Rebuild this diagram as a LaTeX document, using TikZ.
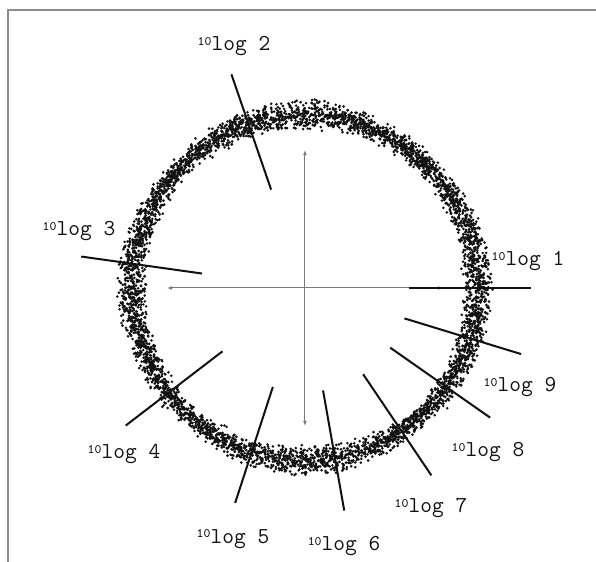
\documentclass[tikz,border=0pt]{standalone}
\usepackage{tikz}
\usetikzlibrary{arrows.meta}
\definecolor{ink}{HTML}{111111}
\definecolor{axisgray}{HTML}{7A7A7A}
\definecolor{framegray}{HTML}{8C8C8C}
\newcommand{\tenlog}[1]{\raisebox{0.55ex}{\fontsize{6.5}{7}\selectfont 10}log #1}
\tikzset{
  >={Latex[length=2.6pt,width=2pt]},
  lbl/.style={font=\ttfamily\fontsize{11.4}{13}\selectfont,inner sep=0pt,text=ink},
  ray/.style={draw=ink,line width=1pt},
  axis/.style={<->,draw=axisgray,line width=0.5pt},
  frm/.style={draw=framegray,line width=0.8pt},
}
\begin{document}
\begin{tikzpicture}[x=0.5pt,y=0.5pt]
\useasboundingbox (-305,-274) rectangle (291,288);
\coordinate (c) at (0,0);
% frame, runs off at right and bottom
\draw[frm] (-297,-290) -- (-297,278) -- (300,278);
% stippled ring
\pgfmathsetseed{17}
\foreach \i in {1,...,5200}
  \fill[ink] ({360*rnd}:{157+16*rnd+16*rnd}) circle (0.72pt);
% axes
\coordinate (n) at (90:138);
\coordinate (s) at (270:138);
\coordinate (e) at (0:138);
\coordinate (w) at (180:138);
\draw[axis] (w) -- (e);
\draw[axis] (s) -- (n);
% rays + labels
\foreach \k/\a/\x/\y in {1/0/223/27,2/109/-71/242,3/172/-226/57,4/217.5/-181/-166,
  5/252/-72/-251,6/280/39/-258,7/304/126/-220,8/325/183/-164,9/343/215/-99}{
  \coordinate (a\k) at (\a:104);
  \coordinate (b\k) at (\a:226);
  \draw[ray] (a\k) -- (b\k);
  \node[lbl] (l\k) at (\x,\y) {\tenlog{\k}};
}
\end{tikzpicture}
\end{document}
